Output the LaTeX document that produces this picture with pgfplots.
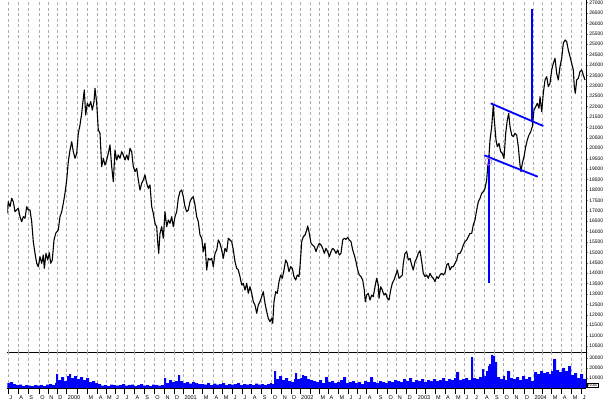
\documentclass[border=0pt]{standalone}
\usepackage{pgfplots}
\pgfplotsset{compat=1.18}
\usepackage{fontspec}
\setmainfont{Liberation Sans}
\begin{document}
\begin{tikzpicture}
\pgfplotsset{
 base/.style={scale only axis, width=578.7pt, xmin=7.3, xmax=586,
  axis x line*=bottom, axis y line*=right, tick align=outside, major tick length=2pt,
  scaled y ticks=false,
  /pgf/number format/assume math mode=true, /pgf/number format/1000 sep={},
  tick label style={font=\fontsize{5}{5}\selectfont},
  yticklabel style={inner sep=0.5pt, xshift=0.6pt},
  axis line style={black, line width=0.8pt},
  xmajorgrids, grid style={black!32, dash pattern=on 3pt off 2.5pt, line width=0.6pt},
  xtick={8.3,18.3,28.3,39.3,48.3,57.3,66.7,77.3,87.3,97.7,106,115,124.3,134.3,144.3,154.3,164.3,174,183.3,193.3,202.7,213.3,222.7,232.7,242.3,251.7,261.7,271.7,281.7,291,300,310.7,319.3,328.3,338.3,348.3,357.3,366.7,377.7,387.3,396.7,406.7,416.7,425,435,445,455,464.3,474,484,494,503.3,513.3,524,533.3,542.7,551.7,561.7,571.7,581.7},
  xticklabels={}, xtick style={draw=none}}
}
% price panel
\begin{axis}[base, at={(7.3pt,48pt)}, anchor=south west, height=352pt,
  ymin=10213, ymax=27120, ytick={10500,11000,...,27000}]
\addplot[black, line width=1.1pt, line join=round] coordinates {
(7.3,16875)(8.3,17432)(10,17192)(11.7,17596)(13.3,17432)(15,16952)(16.7,17034)(18.3,17114)(20,16712)(21.7,16472)(23.3,16712)(25,16634)(26.7,17192)(28.3,17034)(30,17034)(31.7,16472)(33.3,15512)(35,14953)(36.7,14474)(38.3,14310)(40,14791)(41.7,14474)(43.3,14872)(44.3,14233)(46,14953)(47.7,14632)(49.3,14983)(50.7,14474)(52.3,14632)(54,15593)(55.7,15914)(58.3,16073)(60,16712)(61.7,16952)(63.3,17355)(65,17836)(66.7,18474)(68.3,19354)(70,19915)(71.7,20314)(73.3,19834)(75,19517)(76.7,19757)(78.3,20718)(80,21116)(81.7,21678)(83.3,22398)(84.3,22797)(85.7,21597)(87.3,22158)(89,21995)(90.7,22235)(92.3,21837)(94,22235)(95,22879)(96.7,22158)(98.3,20876)(100,20718)
(101.7,19114)(103.3,19517)(105,19195)(106.7,19435)(108.3,19757)(110,20156)(111.7,19114)(113.3,18393)(115,19915)(116.7,19435)(118.3,19675)(120,19517)(121.7,19834)(123.3,19675)(125,19435)(126.7,19675)(128.3,19435)(130,19997)(131.7,19834)(133.3,19114)(135,18874)(136.7,19037)(138.3,18474)(140,17994)(141.7,18316)(143.3,18474)(145,18715)(146.7,18316)(148.3,18076)(150,18235)(151.7,17192)(153.3,16875)(155,16394)(156.7,16232)(157.7,15512)(158.7,14953)(160,15914)(161.7,16232)(163.3,15674)(165,16952)(166.7,16232)(168.3,16553)(170,16394)(171.7,16712)(173.3,16232)(175,16712)(176.7,16952)(178.3,17596)(180,17914)(181.7,17994)(183.3,17673)(185,17192)(186.7,16952)(188.3,17034)(190,17432)(191.7,17596)(193.3,17673)(195,17274)(196.7,16712)(198.3,16472)
(200,15833)(201.7,15674)(203.3,15032)(205,15434)(206.7,14152)(208.3,14714)(210,14632)(211.7,14714)(213.3,14310)(215,14953)(216.7,15112)(218.3,15593)(220,15434)(221.7,15112)(223.3,14714)(225,15193)(226.7,15032)(228.3,15674)(230,15593)(231.7,15512)(233.3,15112)(235,14553)(236.7,14233)(238.3,14152)(240,13830)(241.7,13432)(243.3,13513)(245,13191)(246.7,13513)(248.3,13033)(250,13350)(251.7,13033)(253.3,12630)(255,12471)(256.7,12072)(258.3,12471)(260,12630)(261.7,12870)(263.3,13110)(265,12552)(266.7,12149)(268.3,11831)(270,11669)(271.7,11831)(272.7,11591)(274,12630)(275.7,13110)(277.3,13033)(279,13590)(280.7,13912)(282.3,13753)(284,14152)(285.7,14632)(287.3,14474)(289,14071)(290.7,14310)(292.3,14233)(294,13830)(295.7,13671)(297.3,13912)(299,13830)
(300,14310)(301.7,15512)(303.3,15751)(305,15833)(306.7,16073)(307.7,16265)(309.3,15914)(311,15434)(312.7,15353)(314.3,15273)(316,15032)(317.7,15273)(319.3,15434)(321,15353)(322.7,15193)(324.3,14953)(326,15193)(327.7,15032)(329.3,14791)(331,15032)(332.7,15193)(334.3,15112)(336,14953)(337.7,15112)(339.3,14872)(341,14953)(342.7,15593)(344.3,15674)(346,15625)(347.7,15720)(349.3,15593)(351,15512)(352.7,15112)(354.3,14872)(356,14553)(357.7,14152)(359.3,13912)(361,13830)(362.7,13671)(364.3,13191)(365.3,12630)(366.7,12951)(368.3,13033)(370,12711)(371.7,12951)(373.3,12870)(375,13350)(376.7,13753)(378.3,13432)(379,12791)(380.7,13350)(382.3,13191)(384,12951)(385.7,13033)(387.3,12791)(389,12711)(390.7,13191)(392.3,13513)(394,13671)(395.7,13912)(397.3,14152)(399,13753)
(400.7,13830)(402.3,13912)(403.3,14474)(405,14953)(406.7,15032)(408.3,14632)(410,14714)(411.7,14392)(413.3,14152)(415,14553)(416.7,14714)(418.3,14953)(420,15080)(421.7,14553)(423.3,13992)(425,13830)(426.7,13912)(428.3,13753)(430,13992)(431.7,13830)(433.3,13753)(435,13590)(436.7,13830)(438.3,13753)(440,13912)(441.7,13992)(443.3,13912)(445,14024)(446.7,14392)(448.3,14474)(450,14152)(451.7,14310)(453.3,14310)(455,14474)(456.7,14632)(458.3,14953)(460,14953)(461.7,15112)(463.3,15353)(465,15512)(466.7,15593)(468.3,15751)(470,15914)(471.7,15914)(473.3,16313)(475,16553)(476.7,17034)(478.3,17432)(480,17596)(481.7,17836)(483.3,17914)(485,18076)(486.7,18474)(487.7,19114)(488.7,19435)
(490,20396)(491.7,21036)(493.3,22077)(494.3,21356)(496,20396)(497.3,20075)(499,20235)(500.7,19834)(502.3,19757)(504,19517)(505.7,20718)(507.3,21356)(508.7,21678)(510,21036)(511.7,20636)(513.3,20555)(515,20718)(516.7,20636)(518.3,20075)(520,19195)(521,18874)(522.3,19277)(524,19595)(525.7,20075)(527.3,20396)(529,20636)(530.7,20795)(532.3,21036)(534,21837)(535.7,21995)(537.3,22158)(539,21918)(540,22477)(541.7,21755)(543.3,22638)(545,23278)(546.7,23437)(548.3,22956)(550,23118)(551.7,23758)(553.3,24079)(555,24320)(556.7,23600)(558.3,23278)(560,23917)(561.7,24320)(563.3,25040)(565,25199)(566.7,25117)(568.3,24718)(570,24397)(571.7,24079)(573.3,23758)(574.3,22956)(575.3,22638)(576.7,23278)(578.3,23359)(580,23677)(581.7,23758)(583.3,23518)(585,23278)
};
% flag annotations
\addplot[blue, line width=1.8pt] coordinates {(489,19675) (489,13528)};
\addplot[blue, line width=1.8pt] coordinates {(490.7,22158) (543.3,21068)};
\addplot[blue, line width=1.8pt] coordinates {(484.3,19661) (537.7,18633)};
\addplot[blue, line width=1.8pt] coordinates {(531.7,26673) (531.7,21356)};
\addplot[only marks, mark=o, mark size=3.5pt, mark options={draw=violet!50, line width=0.7pt}] coordinates {(488.3,19354)};
\end{axis}
% volume panel
\begin{axis}[base, at={(7.3pt,12pt)}, anchor=south west, height=36pt,
  ymin=0, ymax=36000, ytick={10000,20000,30000}]
\addplot[fill=blue, draw=none, const plot] coordinates {
(7,5000)(10,6000)(13,4000)(16,3000)(19,3500)(22,2000)(25,3000)(28,2500)(31,2000)(34,3000)(37,2500)(40,3000)(43,2000)(46,3500)(49,4000)(52,3000)(55,5000)(56,14000)(58,8000)(61,11000)(64,7000)(67,12000)(69,14000)(71,10000)(74,12000)(77,9000)(80,11000)(83,8000)(86,10000)(89,6000)(92,7000)(95,5000)(98,4000)(101,2500)(104,3000)(107,2000)(110,3500)(113,3000)(116,2500)(119,3000)(122,4000)(125,2500)(128,3000)(131,3500)(134,2000)(137,3000)(140,4000)(143,2500)(146,3000)(149,2000)(152,3500)(155,3000)(158,2500)(161,3000)(164,10000)(166,5000)(169,8000)(172,6000)(175,7000)(178,13000)(180,7000)(183,5000)(186,6000)(189,4500)(192,6000)(195,5000)(198,4000)(201,4000)(204,3500)(207,5000)(210,3000)(213,4500)(216,3500)(219,4000)(222,5000)(225,3000)(228,4000)(231,3500)(234,4000)(237,5000)(240,3000)(243,4000)(246,3500)(249,4000)(252,3000)(255,4500)(258,3500)(261,4000)(264,3000)(267,4000)(270,5000)(272,4000)(274,17000)(276,9000)(279,12000)(282,8000)(285,10000)(288,7000)(291,6000)(294,9000)(295,15000)(297,9000)(300,10000)(302,13000)(304,12000)(307,9000)(310,8000)(313,7000)(316,6000)(319,8000)(322,5000)(325,11000)(328,6000)(331,7000)(334,5000)(337,6000)(340,8000)(343,11000)(346,5000)(349,6000)(352,7000)(355,5000)(358,6000)(361,4000)(364,7000)(367,6000)(370,11000)(373,6000)(376,5000)(379,7000)(382,6000)(385,5000)(388,7000)(391,6000)(394,8000)(397,7000)(400,6000)(403,9000)(406,7000)(409,10000)(412,6000)(415,8000)(418,7000)(421,9000)(424,6000)(427,8000)(430,7000)(433,9000)(436,7000)(439,8000)(442,10000)(445,7000)(448,9000)(451,8000)(454,10000)(456,16000)(459,8000)(462,9000)(465,10000)(468,8000)(471,31000)(473,10000)(476,9000)(479,11000)(482,19000)(484,12000)(486,17000)(488,22000)(489,24000)(491,33000)(493,32000)(495,26000)(497,11000)(500,9000)(503,12000)(505,8000)(507,17000)(510,10000)(513,9000)(516,11000)(519,8000)(522,12000)(525,9000)(528,11000)(531,7000)(534,16000)(537,14000)(540,17000)(543,15000)(546,16000)(549,14000)(551,17000)(553,29000)(556,18000)(559,16000)(562,20000)(565,17000)(568,22000)(571,13000)(574,15000)(577,10000)(580,14000)(583,9000)(586,12000)
} \closedcycle;
\end{axis}
% month labels
\begin{axis}[scale only axis, width=578.7pt, height=36pt, at={(7.3pt,12pt)}, anchor=south west,
  xmin=7.3, xmax=586, ymin=0, ymax=1, axis y line=none, axis x line*=bottom,
  axis line style={black, line width=0.8pt},
  tick align=outside, major tick length=6pt,
  xtick={8.3,18.3,28.3,39.3,48.3,57.3,66.7,77.3,87.3,97.7,106,115,124.3,134.3,144.3,154.3,164.3,174,183.3,193.3,202.7,213.3,222.7,232.7,242.3,251.7,261.7,271.7,281.7,291,300,310.7,319.3,328.3,338.3,348.3,357.3,366.7,377.7,387.3,396.7,406.7,416.7,425,435,445,455,464.3,474,484,494,503.3,513.3,524,533.3,542.7,551.7,561.7,571.7,581.7},
  xticklabels={J,A,S,O,N,D,2000,,M,A,M,J,J,A,S,O,N,D,2001,,M,A,M,J,J,A,S,O,N,D,2002,,M,A,M,J,J,A,S,O,N,D,2003,,M,A,M,J,J,A,S,O,N,D,2004,,M,A,M,J},
  xtick style={black, line width=0.5pt},
  xticklabel style={font=\fontsize{5.5}{5.5}\selectfont, anchor=north west, inner sep=0pt, xshift=1pt, yshift=-1.2pt}]
\end{axis}
\node[draw=black, line width=0.5pt, inner sep=0.6pt, font=\fontsize{3.5}{3.5}\selectfont, anchor=west] at (587pt,15pt) {x1000};
\pgfresetboundingbox
\path[use as bounding box] (0pt,0pt) rectangle (614pt,400pt);
\end{tikzpicture}
\end{document}
